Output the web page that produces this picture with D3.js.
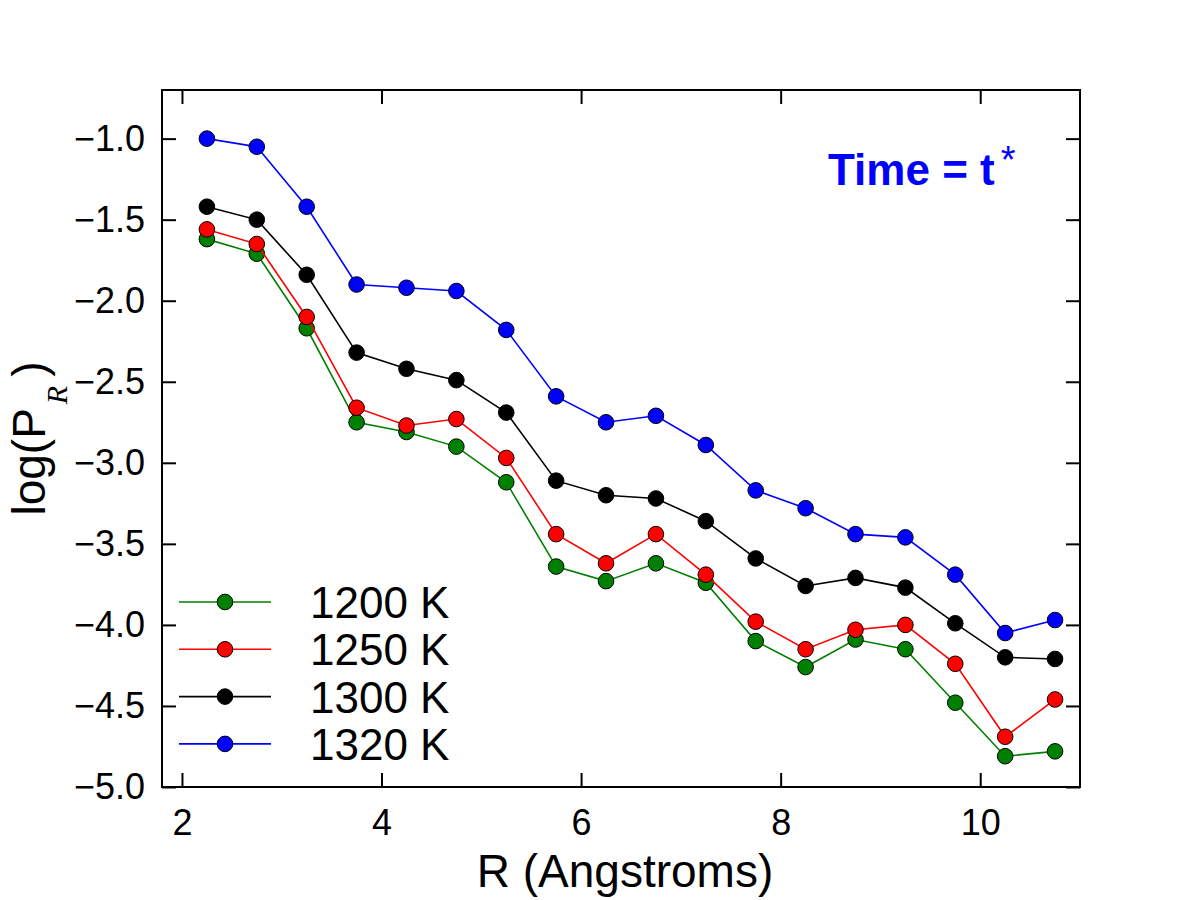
<!DOCTYPE html>
<html>
<head>
<meta charset="utf-8">
<script src="https://cdn.jsdelivr.net/npm/d3@7"></script>
<style>
  body { margin: 0; background: #fff; }
  text { font-family: "Liberation Sans", Arial, sans-serif; }
</style>
</head>
<body>
<svg id="chart" width="1200" height="900"></svg>
<script>
// R values (Angstroms)
const rValues = [2.25, 2.75, 3.25, 3.75, 4.25, 4.75, 5.25, 5.75, 6.25, 6.75, 7.25, 7.75, 8.25, 8.75, 9.25, 9.75, 10.25, 10.75];

// log(P_R) for each temperature
const logP1200 = [-1.62, -1.71, -2.17, -2.75, -2.81, -2.90, -3.12, -3.64, -3.73, -3.62, -3.74, -4.10, -4.26, -4.09, -4.15, -4.48, -4.81, -4.78];
const logP1250 = [-1.56, -1.65, -2.10, -2.66, -2.77, -2.73, -2.97, -3.44, -3.62, -3.44, -3.69, -3.98, -4.15, -4.03, -4.00, -4.24, -4.69, -4.46];
const logP1300 = [-1.42, -1.50, -1.84, -2.32, -2.42, -2.49, -2.69, -3.11, -3.20, -3.22, -3.36, -3.59, -3.76, -3.71, -3.77, -3.99, -4.20, -4.21];
const logP1320 = [-1.00, -1.05, -1.42, -1.90, -1.92, -1.94, -2.18, -2.59, -2.75, -2.71, -2.89, -3.17, -3.28, -3.44, -3.46, -3.69, -4.05, -3.97];

const seriesNames = ["1200 K", "1250 K", "1300 K", "1320 K"];
const seriesColors = ["#008000", "#ff0000", "#000000", "#0000ff"];
const seriesValues = [logP1200, logP1250, logP1300, logP1320];

const xTicks = [2, 4, 6, 8, 10];
const yTicks = [-5.0, -4.5, -4.0, -3.5, -3.0, -2.5, -2.0, -1.5, -1.0];

const margin = { top: 90, right: 120, bottom: 113, left: 162 },
    width = 1200 - margin.left - margin.right,
    height = 900 - margin.top - margin.bottom;

const svg = d3.select("#chart")
    .append("g")
    .attr("transform", `translate(${margin.left}, ${margin.top})`);

const xScale = d3.scaleLinear().domain([1.8, 11]).range([0, width]);
const yScale = d3.scaleLinear().domain([-5, -0.7]).range([height, 0]);

// axes with inward ticks on all four sides
const tickLen = 14;
const styleAxis = g => {
    g.select(".domain").remove();
    g.selectAll("line").attr("stroke", "#000").attr("stroke-width", 2);
    g.selectAll("text").attr("font-size", 36).attr("fill", "#000")
        .style("font-family", "'Liberation Sans', Arial, sans-serif");
};

svg.append("g")
    .attr("transform", `translate(0, ${height})`)
    .call(d3.axisBottom(xScale).tickValues(xTicks).tickSize(-tickLen).tickPadding(22).tickFormat(d3.format("d")))
    .call(styleAxis);

svg.append("g")
    .call(d3.axisTop(xScale).tickValues(xTicks).tickSize(-tickLen).tickFormat(""))
    .call(styleAxis);

svg.append("g")
    .call(d3.axisLeft(yScale).tickValues(yTicks).tickSize(-tickLen).tickPadding(17).tickFormat(d3.format(".1f")))
    .call(styleAxis);

svg.append("g")
    .attr("transform", `translate(${width}, 0)`)
    .call(d3.axisRight(yScale).tickValues(yTicks).tickSize(-tickLen).tickFormat(""))
    .call(styleAxis);

// frame
svg.append("rect")
    .attr("width", width)
    .attr("height", height)
    .attr("fill", "none")
    .attr("stroke", "#000")
    .attr("stroke-width", 2);

// lines + markers
const line = d3.line()
    .x((d, i) => xScale(rValues[i]))
    .y(d => yScale(d));

seriesValues.forEach((vals, s) => {
    svg.append("path")
        .datum(vals)
        .attr("d", line)
        .attr("fill", "none")
        .attr("stroke", seriesColors[s])
        .attr("stroke-width", 1.6);

    svg.selectAll(null)
        .data(vals)
        .enter().append("circle")
        .attr("cx", (d, i) => xScale(rValues[i]))
        .attr("cy", d => yScale(d))
        .attr("r", 7.8)
        .attr("fill", seriesColors[s])
        .attr("stroke", "#000")
        .attr("stroke-width", 1);
});

// legend
const legend = svg.append("g").attr("transform", "translate(17, 512)");
seriesNames.forEach((name, i) => {
    const row = legend.append("g").attr("transform", `translate(0, ${i * 47.3})`);
    row.append("line")
        .attr("x1", 0).attr("x2", 92)
        .attr("stroke", seriesColors[i]).attr("stroke-width", 1.6);
    row.append("circle")
        .attr("cx", 46).attr("r", 7.8)
        .attr("fill", seriesColors[i]).attr("stroke", "#000").attr("stroke-width", 1);
    row.append("text")
        .attr("x", 131).attr("y", 16)
        .attr("font-size", 44)
        .text(name);
});

// annotation
const note = svg.append("text")
    .attr("x", 828 - margin.left)
    .attr("y", 185 - margin.top)
    .attr("font-size", 44)
    .attr("font-weight", "bold")
    .attr("fill", "#0000ff")
    .text("Time = t");
note.append("tspan")
    .attr("dx", 6).attr("dy", -12)
    .attr("font-size", 38)
    .attr("font-weight", "normal")
    .text("*");

// axis labels
svg.append("text")
    .attr("x", width / 2 + 4)
    .attr("y", 887 - margin.top)
    .attr("text-anchor", "middle")
    .attr("font-size", 46)
    .text("R (Angstroms)");

const ylab = svg.append("text")
    .attr("transform", `translate(${45 - margin.left}, ${height / 2}) rotate(-90)`)
    .attr("text-anchor", "middle")
    .attr("font-size", 46)
    .text("log(P");
ylab.append("tspan")
    .attr("dy", 22)
    .attr("dx", 4)
    .attr("font-size", 30)
    .attr("font-style", "italic")
    .style("font-family", "'Liberation Serif', 'Times New Roman', serif")
    .text("R");
ylab.append("tspan")
    .attr("dy", -22)
    .attr("dx", 9)
    .text(")");
</script>
</body>
</html>
